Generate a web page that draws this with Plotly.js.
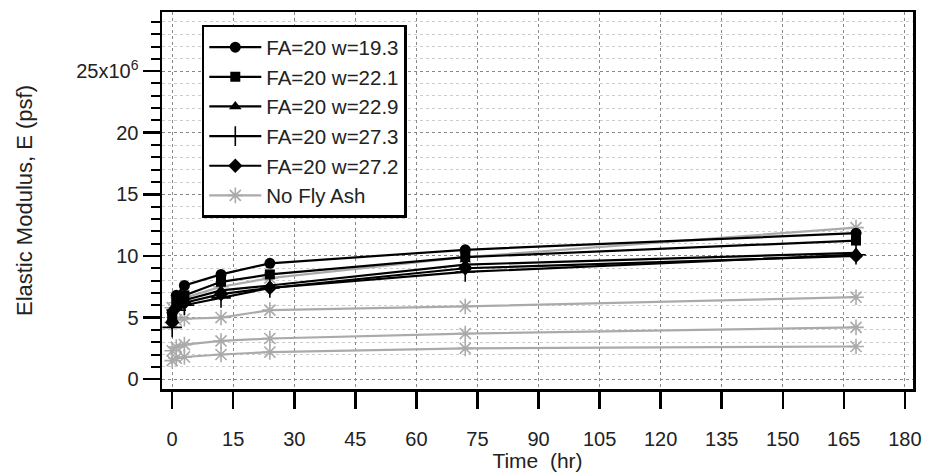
<!DOCTYPE html>
<html>
<head>
<meta charset="utf-8">
<script src="https://cdn.plot.ly/plotly-3.0.1.min.js"></script>
<style>html,body{margin:0;padding:0;background:#fff;}#chart{width:930px;height:474px;}</style>
</head>
<body>
<div id="chart"></div>
<script>
// Time (hr)
const time = [0, 1, 3, 12, 24, 72, 168];
// Elastic modulus E (x10^6 psf)
const fa20_w193 = [5.4, 6.8, 7.6, 8.5, 9.4, 10.5, 11.85];
const fa20_w221 = [5.2, 6.2, 6.8, 7.9, 8.5, 9.9, 11.25];
const fa20_w229 = [4.9, 5.9, 6.4, 7.2, 7.6, 9.3, 10.25];
const fa20_w273 = [4.2, 5.6, 6.0, 6.6, 7.4, 8.7, 10.1];
const fa20_w272 = [4.6, 5.8, 6.2, 6.9, 7.4, 9.0, 10.0];
const noFlyAsh1 = [5.8, 6.2, 6.6, 7.5, 8.2, 9.9, 12.3];
const noFlyAsh2 = [4.6, 4.8, 4.9, 5.0, 5.6, 5.9, 6.65];
const noFlyAsh3 = [2.3, 2.6, 2.8, 3.1, 3.3, 3.7, 4.2];
const noFlyAsh4 = [1.5, 1.7, 1.8, 2.0, 2.2, 2.5, 2.65];

const yTickVals = [0, 5, 10, 15, 20, 25];
const yTickText = ['0', '5', '10', '15', '20', '25x10<sup>6</sup>'];
const xTickVals = [0, 15, 30, 45, 60, 75, 90, 105, 120, 135, 150, 165, 180];

const black = '#000000';
const gray = '#aaaaaa';

function blackTrace(y, name, symbol, rank, size) {
  const thin = symbol === 'cross-thin-open';
  return {
    x: time, y: y, name: name, type: 'scatter', mode: 'lines+markers',
    line: {color: black, width: 2.2},
    marker: {symbol: symbol, size: size, color: black,
             line: {color: black, width: thin ? 1.6 : 0}},
    legendrank: rank
  };
}
function grayTrace(y, show) {
  return {
    x: time, y: y, name: 'No Fly Ash', type: 'scatter', mode: 'lines+markers',
    line: {color: gray, width: 2.2},
    marker: {symbol: 'asterisk-open', size: 13, color: gray, line: {color: gray, width: 1.6}},
    legendgroup: 'nfa', showlegend: show, legendrank: 1000
  };
}

const data = [
  grayTrace(noFlyAsh4, false),
  grayTrace(noFlyAsh3, false),
  grayTrace(noFlyAsh2, false),
  grayTrace(noFlyAsh1, true),
  blackTrace(fa20_w193, 'FA=20 w=19.3', 'circle', 1, 11),
  blackTrace(fa20_w221, 'FA=20 w=22.1', 'square', 2, 10),
  blackTrace(fa20_w229, 'FA=20 w=22.9', 'triangle-up', 3, 11),
  blackTrace(fa20_w273, 'FA=20 w=27.3', 'cross-thin-open', 4, 14),
  blackTrace(fa20_w272, 'FA=20 w=27.2', 'diamond', 5, 11)
];

const layout = {
  width: 930, height: 474,
  margin: {l: 162, r: 17, t: 12, b: 85},
  paper_bgcolor: '#ffffff', plot_bgcolor: '#ffffff',
  font: {family: 'Liberation Sans, Arial, sans-serif', size: 20, color: '#222222'},
  showlegend: true,
  legend: {
    x: 0.053, y: 0.966, xanchor: 'left', yanchor: 'top',
    bgcolor: '#ffffff', bordercolor: '#000000', borderwidth: 2.5,
    font: {size: 20.5, color: '#222222'},
    itemwidth: 52, tracegroupgap: 0
  },
  xaxis: {
    range: [-2.5, 182],
    tickvals: xTickVals,
    ticks: 'outside', ticklen: 17, tickwidth: 2.5, tickcolor: '#000',
    showline: true, linecolor: '#000', linewidth: 2.5, mirror: true,
    showgrid: true, gridcolor: '#888888', griddash: 'dot', gridwidth: 1,
    zeroline: false,
    tickfont: {size: 20},
    ticklabelstandoff: 13,
    title: {text: 'Time \u00a0(hr)', font: {size: 21}, standoff: 4}
  },
  yaxis: {
    range: [-0.8, 29.8],
    tickvals: yTickVals, ticktext: yTickText,
    ticks: 'outside', ticklen: 17, tickwidth: 2.5, tickcolor: '#000',
    showline: true, linecolor: '#000', linewidth: 2.5, mirror: true,
    showgrid: true, gridcolor: '#888888', griddash: 'dot', gridwidth: 1,
    zeroline: false,
    tickfont: {size: 20},
    minor: {dtick: 1, ticks: 'outside', ticklen: 9, tickwidth: 2, tickcolor: '#000',
            showgrid: true, gridcolor: '#cccccc', griddash: 'dot', gridwidth: 1},
    title: {text: 'Elastic Modulus, E (psf)', font: {size: 22}, standoff: 38}
  }
};

Plotly.newPlot('chart', data, layout, {displayModeBar: false, staticPlot: true});
</script>
</body>
</html>
